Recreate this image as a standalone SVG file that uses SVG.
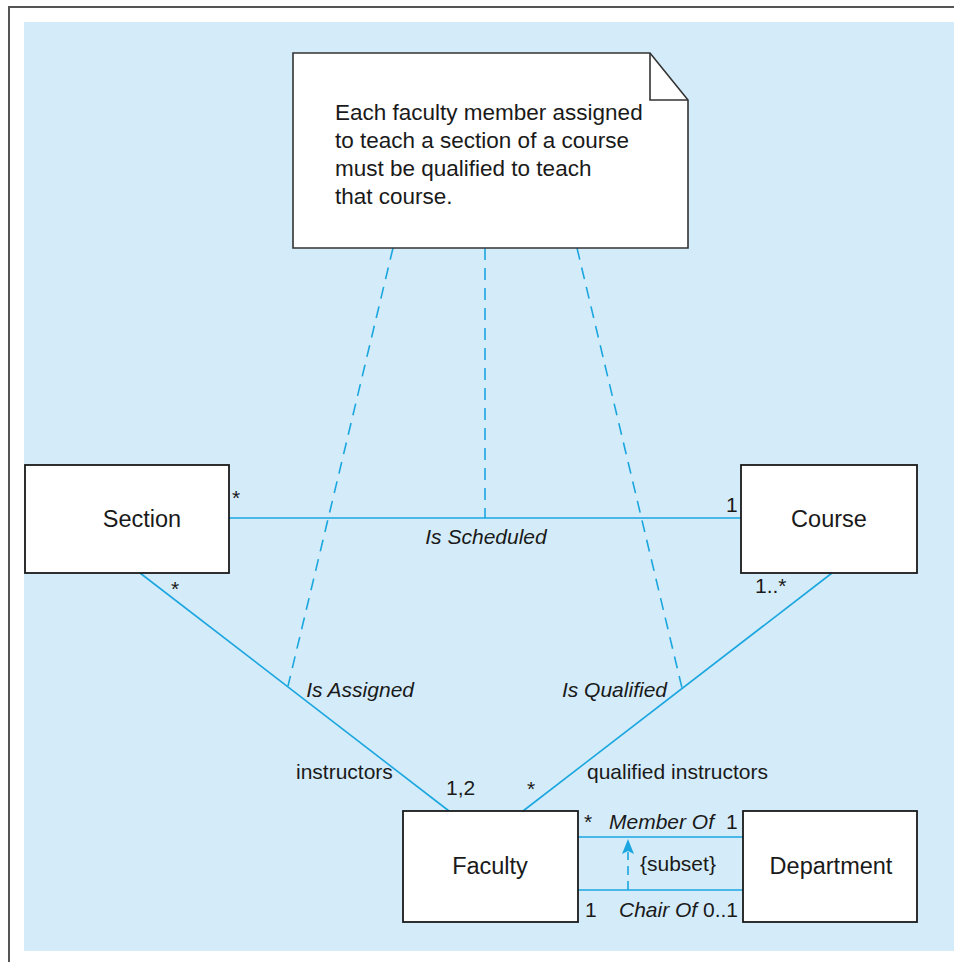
<svg xmlns="http://www.w3.org/2000/svg" width="954" height="962" viewBox="0 0 954 962">
<defs>
<style>
.box{fill:#ffffff;stroke:#1a1a1a;stroke-width:1.8}
.conn{stroke:#1ba6e0;stroke-width:1.6;fill:none}
.dash{stroke-dasharray:12 8}
.t{font-family:"Liberation Sans",Arial,Helvetica,sans-serif;font-size:21px;fill:#1a1a1a}
.it{font-style:italic}
.name{font-size:23.5px;text-anchor:middle}
.note{font-size:22.5px}
</style>
</defs>
<rect x="0" y="0" width="954" height="962" fill="#ffffff"/>
<path d="M9,970 V7 H970" fill="none" stroke="#555555" stroke-width="2"/>
<rect x="24" y="22" width="940" height="929" fill="#d4ecf9"/>

<g id="connectors">
<line class="conn" x1="229" y1="518" x2="741" y2="518"/>
<line class="conn" x1="140" y1="573" x2="449" y2="811"/>
<line class="conn" x1="832" y1="573" x2="523" y2="811"/>
<line class="conn" x1="578" y1="837" x2="743" y2="837"/>
<line class="conn" x1="578" y1="890" x2="743" y2="890"/>
<line class="conn dash" x1="393" y1="248" x2="288" y2="686"/>
<line class="conn dash" x1="485" y1="248" x2="485" y2="518"/>
<line class="conn dash" x1="577" y1="248" x2="682" y2="688"/>
<line class="conn" style="stroke-dasharray:9 6" x1="628" y1="890" x2="628" y2="852"/>
<path d="M622,854 L628,839 L634,854 L628,851 Z" fill="#1ba6e0"/>
<text class="t" x="232" y="505">*</text>
<text class="t" x="726" y="512">1</text>
<text class="t it" x="486" y="544" text-anchor="middle">Is Scheduled</text>
<text class="t" x="171" y="596">*</text>
<text class="t" x="755" y="593">1..*</text>
<text class="t it" x="414" y="697" text-anchor="end">Is Assigned</text>
<text class="t it" x="667" y="697" text-anchor="end">Is Qualified</text>
<text class="t" x="296" y="779">instructors</text>
<text class="t" x="446" y="795">1,2</text>
<text class="t" x="527" y="796">*</text>
<text class="t" x="587" y="779">qualified instructors</text>
<text class="t" x="584" y="829">*</text>
<text class="t it" x="609" y="829">Member Of</text>
<text class="t" x="726" y="829">1</text>
<text class="t" x="640" y="871">{subset}</text>
<text class="t" x="585" y="917">1</text>
<text class="t" x="619" y="917"><tspan class="it">Chair Of</tspan> 0..1</text>
</g>

<g id="note">
<path d="M293,53 H650 L688,100 V248 H293 Z" fill="#ffffff" stroke="#333333" stroke-width="1.6"/>
<path d="M650,53 V100 H688" fill="none" stroke="#333333" stroke-width="1.6"/>
<text class="t note" x="335" y="120">Each faculty member assigned</text>
<text class="t note" x="335" y="148">to teach a section of a course</text>
<text class="t note" x="335" y="176">must be qualified to teach</text>
<text class="t note" x="335" y="204">that course.</text>
</g>

<g id="section">
<rect class="box" x="25" y="465" width="204" height="108"/>
<text class="t name" x="142" y="527">Section</text>
</g>

<g id="course">
<rect class="box" x="741" y="465" width="176" height="108"/>
<text class="t name" x="829" y="527">Course</text>
</g>

<g id="faculty">
<rect class="box" x="403" y="811" width="175" height="111"/>
<text class="t name" x="490" y="874">Faculty</text>
</g>

<g id="department">
<rect class="box" x="743" y="811" width="174" height="111"/>
<text class="t name" x="831" y="874">Department</text>
</g>
</svg>
